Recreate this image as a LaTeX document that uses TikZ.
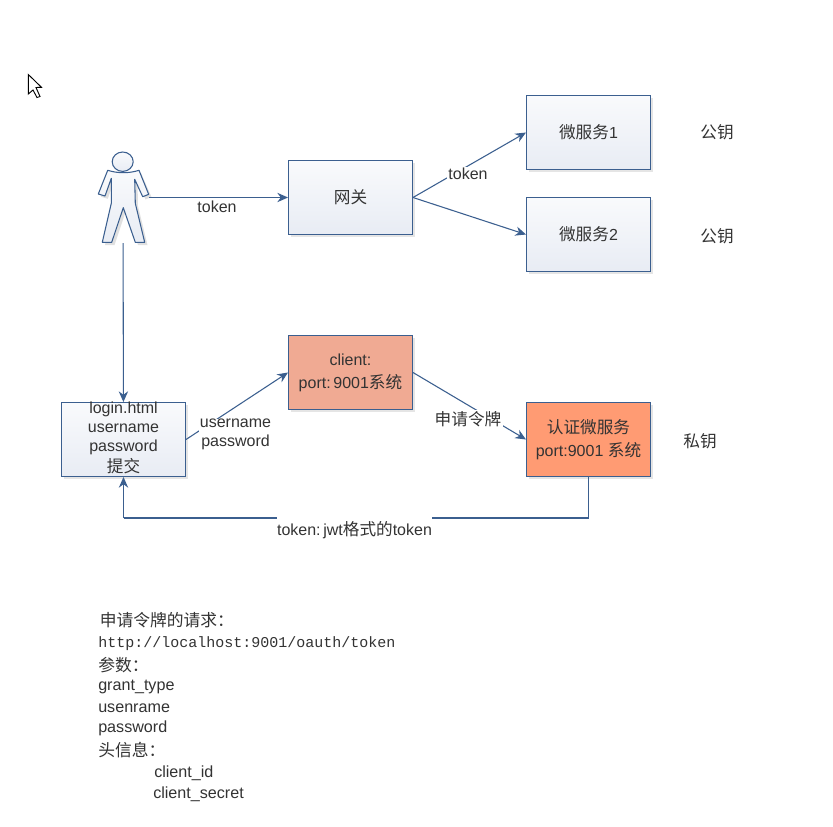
\documentclass[tikz,border=0pt]{standalone}
\usepackage{fontspec}
\setmainfont{Liberation Sans}
\setmonofont{Liberation Mono}
\newfontfamily\cjk[Scale=1.04]{Noto Sans CJK SC}
\usetikzlibrary{arrows.meta,shadows}
\definecolor{edge}{HTML}{3B5F8F}
\definecolor{ink}{HTML}{333333}
\definecolor{topc}{HTML}{F9FAFC}
\definecolor{botc}{HTML}{E8ECF4}
\tikzset{
  softshadow/.style={drop shadow={shadow xshift=2.1pt,shadow yshift=-2.1pt,fill=black,opacity=.1}},
  box/.style={draw=edge,line width=.75pt,minimum width=93pt,minimum height=55.5pt,inner sep=0pt,align=center,text=ink,font=\fontsize{12}{14.25}\selectfont,softshadow},
  bluebox/.style={box,top color=topc,bottom color=botc},
  txt/.style={text=ink,font=\fontsize{12}{14.25}\selectfont,align=center,inner sep=1pt},
  lab/.style={txt,fill=white},
  line/.style={text=ink,font=\fontsize{12.1}{14.25}\selectfont,anchor=west,inner sep=0pt},
  conn/.style={draw=edge,line width=.8pt,-{Stealth[length=8pt,width=7pt]}},
  plain/.style={draw=edge,line width=.8pt}
}
\begin{document}
\begin{tikzpicture}[x=.75pt,y=-.75pt]
\useasboundingbox (0,0) rectangle (833,826);
\fill[white] (0,0) rectangle (833,826);
% pointer
\draw[black,fill=white,line width=.7pt,line join=miter]
  (28.3,74.5) -- (41.5,87.3) -- (36,87.5) -- (40,96.5) -- (37,97.5) -- (33,90) -- (28.3,94) -- cycle;
% boxes
\node[bluebox] (gate) at (350.5,197.5) {\cjk 网关};
\node[bluebox] (ms1) at (588.5,132.5) {\cjk 微服务\rmfamily 1};
\node[bluebox] (ms2) at (588.5,234.5) {\cjk 微服务\rmfamily 2};
\node[box,fill={rgb,255:red,240;green,170;blue,147}] (client) at (350.5,372.5) {client:\\[3pt]port:\,9001{\cjk 系统}};
\node[box,fill={rgb,255:red,255;green,155;blue,115}] (auth) at (588.5,439.5) {\raisebox{-1.2pt}{\cjk 认证微服务}\\[3pt]\raisebox{-1.2pt}{port:9001 {\cjk 系统}}};
\node[bluebox] (login) at (123.5,439.5) {};
\node[txt,inner sep=0pt] (logintext) at (123.5,438) {login.html\\username\\password\\[1pt]{\cjk 提交}};
% person
\node[minimum width=39pt,minimum height=68pt,inner sep=0pt] (person) at (123,197.5) {};
\fill[black,opacity=.12]
  (110,173) -- (141,173) -- (151.5,197) -- (145.5,199.5) -- (137.5,182) -- (138,206) -- (147.5,245) -- (138,245) -- (126,210.5) -- (114.5,245) -- (105,245) -- (114,206) -- (114,181) -- (107.8,198.8) -- (101,196.8) -- cycle;
\begin{scope}[line join=round]
\path[draw=edge,line width=.8pt,top color=topc,bottom color=botc] (122.7,161.7) ellipse [x radius=10.5,y radius=9.7];
\path[draw=edge,line width=.8pt,top color=topc,bottom color=botc] (107.7,170.3) .. controls (118,173.5) and (129,173.5) .. (139,170.3)
  -- (148.7,194.3) -- (142.7,196.7) -- (134.7,179.3) -- (135.3,203.3) -- (144.7,242.3) -- (135.3,242.3) -- (123.3,207.7) -- (111.7,242.3) -- (102.3,242.3) -- (111.3,203.3) -- (111.3,178.3) -- (105,196) -- (98.3,194) -- cycle;
\end{scope}
% connectors
\coordinate (c1) at (588.5,518);
\coordinate (c2) at (123.5,518);
\draw[conn] (person) -- (gate);
\draw[conn] (gate.east) -- (ms1.west);
\draw[conn] (gate.east) -- (ms2.west);
\draw[conn] (person) -- (login);
\draw[conn] (login.east) -- (client.west);
\draw[conn] (client.east) -- (auth.west);
\draw[plain] (auth.south) -- (c1) -- (c2);
\draw[conn] (c2) -- (login.south);
% connector labels
\node[txt,inner sep=0pt] (l1) at (217,207) {token};
\node[lab,inner sep=1pt] (l2) at (468,174) {token};
\node[lab,inner ysep=0pt] (l3) at (235.5,434.5) {username\\password};
\node[lab] (l4) at (468,419) {\cjk 申请令牌};
\node[lab,inner sep=0pt,minimum height=22pt] (l5) at (354.5,530) {token:\,jwt{\cjk 格式的}token};
% side labels
\node[txt] (k1) at (717,132) {\cjk 公钥};
\node[txt] (k2) at (717,236) {\cjk 公钥};
\node[txt] (k3) at (700,441) {\cjk 私钥};
% notes
\node[line] (n1) at (99.5,620) {\cjk 申请令牌的请求：};
\node[line,font=\fontsize{11.25}{14}\ttfamily] (n2) at (98,644) {http://localhost:9001/oauth/token};
\node[line] (n3) at (98,665) {\cjk 参数：};
\node[line] (n4) at (98,687) {grant\_type};
\node[line] (n5) at (98,708) {usenrame};
\node[line] (n6) at (98,728.5) {password};
\node[line] (n7) at (98,750) {\cjk 头信息：};
\node[line] (n8) at (154,773) {client\_id};
\node[line] (n9) at (153,794) {client\_secret};
\end{tikzpicture}
\end{document}
